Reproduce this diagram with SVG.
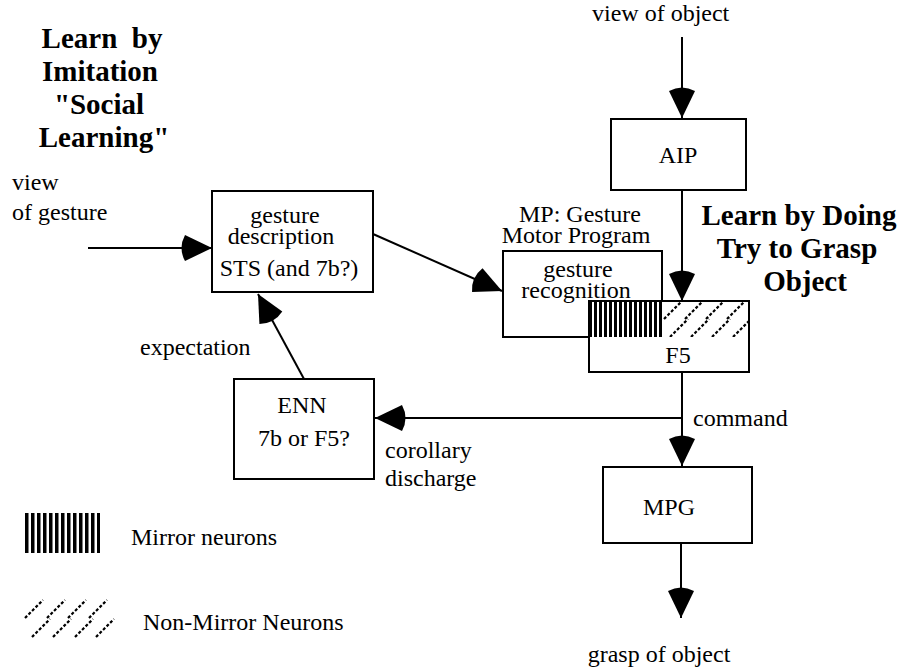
<svg xmlns="http://www.w3.org/2000/svg" width="898" height="671" viewBox="0 0 898 671">
<style>
  .t { font-size: 24px; fill: #000; }
  .b { font-size: 29px; font-weight: bold; fill: #000; }
  .m { text-anchor: middle; }
  .box { fill: #fff; stroke: #000; stroke-width: 2; }
  .ln { stroke: #000; stroke-width: 2; fill: none; marker-end: url(#ah); }
  .dash { stroke: #000; stroke-width: 2.2; stroke-dasharray: 3 2; fill: none; }
</style>
<defs>
  <marker id="ah" markerUnits="userSpaceOnUse" markerWidth="40" markerHeight="32" viewBox="-36 -16 40 32" refX="0" refY="0" orient="auto">
    <path d="M0,0 L-27,-13 Q-34,0 -27,13 Z" fill="#000"/>
  </marker>
  <pattern id="vbarsF5" x="589" y="0" width="5" height="10" patternUnits="userSpaceOnUse">
    <rect x="0" y="0" width="3" height="10" fill="#000"/>
  </pattern>
  <pattern id="vbarsLeg" x="25" y="0" width="6" height="10" patternUnits="userSpaceOnUse">
    <rect x="0" y="0" width="3.5" height="10" fill="#000"/>
  </pattern>
  <clipPath id="diagClip"><rect x="662" y="301" width="87" height="36"/></clipPath>
</defs>

<g font-family="Liberation Serif">

<g id="title-left">
  <text class="b m" x="102" y="48" xml:space="preserve">Learn  by</text>
  <text class="b m" x="100" y="81">Imitation</text>
  <text class="b m" x="99" y="114">"Social</text>
  <text class="b m" x="104" y="147">Learning"</text>
</g>

<g id="title-right">
  <text class="b m" x="799" y="225">Learn by Doing</text>
  <text class="b m" x="797" y="258">Try to Grasp</text>
  <text class="b m" x="805" y="291">Object</text>
</g>

<g id="connectors">
  <line class="ln" x1="88" y1="248" x2="212" y2="248"/>
  <line class="ln" x1="373" y1="234" x2="502" y2="291"/>
  <line class="ln" x1="304" y1="379" x2="258" y2="294"/>
  <line class="ln" x1="682" y1="37" x2="682" y2="118"/>
  <line class="ln" x1="682" y1="190" x2="682" y2="301"/>
  <line class="ln" x1="682" y1="372" x2="682" y2="466"/>
  <line class="ln" x1="682" y1="418" x2="375" y2="418"/>
  <line class="ln" x1="681" y1="543" x2="681" y2="618"/>
</g>

<g id="label-view-object"><text class="t" x="592" y="21">view of object</text></g>
<g id="label-view-gesture">
  <text class="t" x="12" y="190">view</text>
  <text class="t" x="12" y="220">of gesture</text>
</g>
<g id="label-expectation"><text class="t" x="140" y="355">expectation</text></g>
<g id="label-command"><text class="t" x="693" y="426">command</text></g>
<g id="label-corollary">
  <text class="t" x="385" y="458">corollary</text>
  <text class="t" x="385" y="486">discharge</text>
</g>
<g id="label-grasp"><text class="t m" x="659" y="662">grasp of object</text></g>

<g id="node-gesture-description">
  <rect class="box" x="212" y="191" width="161" height="101"/>
  <text class="t m" x="285" y="223">gesture</text>
  <text class="t m" x="281" y="244">description</text>
  <text class="t m" x="289" y="276">STS (and 7b?)</text>
</g>

<g id="node-aip">
  <rect class="box" x="611" y="119" width="135" height="71"/>
  <text class="t m" x="678" y="163">AIP</text>
</g>

<g id="node-mp">
  <text class="t m" x="580" y="222">MP: Gesture</text>
  <text class="t m" x="576" y="243">Motor Program</text>
  <rect class="box" x="503" y="251" width="159" height="86"/>
  <text class="t m" x="578" y="277">gesture</text>
  <text class="t m" x="576" y="298">recognition</text>
</g>

<g id="node-f5">
  <rect class="box" x="589" y="301" width="160" height="71"/>
  <rect x="589" y="301" width="73" height="36" fill="url(#vbarsF5)"/>
  <g clip-path="url(#diagClip)">
    <line class="dash" x1="664" y1="319" x2="682" y2="301"/>
    <line class="dash" x1="685" y1="319" x2="703" y2="301"/>
    <line class="dash" x1="706" y1="319" x2="724" y2="301"/>
    <line class="dash" x1="727" y1="319" x2="745" y2="301"/>
    <line class="dash" x1="670" y1="337" x2="688" y2="319"/>
    <line class="dash" x1="691" y1="337" x2="709" y2="319"/>
    <line class="dash" x1="712" y1="337" x2="730" y2="319"/>
    <line class="dash" x1="733" y1="337" x2="751" y2="319"/>
  </g>
  <rect x="589" y="301" width="160" height="71" fill="none" stroke="#000" stroke-width="2"/>
  <text class="t m" x="678" y="363">F5</text>
</g>

<g id="node-enn">
  <rect class="box" x="234" y="379" width="140" height="100"/>
  <text class="t m" x="302" y="413">ENN</text>
  <text class="t m" x="304" y="446">7b or F5?</text>
</g>

<g id="node-mpg">
  <rect class="box" x="603" y="467" width="149" height="76"/>
  <text class="t m" x="669" y="515">MPG</text>
</g>

<g id="legend">
  <rect x="25" y="513" width="75" height="40" fill="url(#vbarsLeg)"/>
  <text class="t" x="131" y="545">Mirror neurons</text>
  <line class="dash" x1="25" y1="618" x2="43" y2="600"/>
  <line class="dash" x1="47" y1="618" x2="65" y2="600"/>
  <line class="dash" x1="68" y1="618" x2="86" y2="600"/>
  <line class="dash" x1="89" y1="618" x2="107" y2="600"/>
  <line class="dash" x1="32" y1="637" x2="50" y2="619"/>
  <line class="dash" x1="53" y1="637" x2="71" y2="619"/>
  <line class="dash" x1="75" y1="637" x2="93" y2="619"/>
  <line class="dash" x1="96" y1="637" x2="114" y2="619"/>
  <text class="t" x="143" y="630">Non-Mirror Neurons</text>
</g>

</g>
</svg>
